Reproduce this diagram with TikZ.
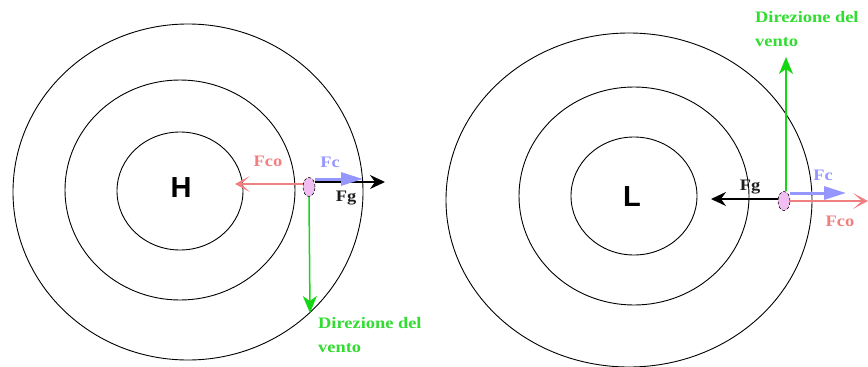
\documentclass[tikz,border=0pt]{standalone}
\usepackage{fontspec}
\setmainfont{Liberation Serif}
\newfontfamily\hlfont{Liberation Sans}
\newfontfamily\labfont[FakeStretch=1.15]{Liberation Serif}
\usetikzlibrary{arrows.meta,shapes.geometric}
\definecolor{fcoc}{RGB}{240,128,128}
\definecolor{fcc}{RGB}{150,150,255}
\definecolor{ventoc}{RGB}{20,215,20}
\definecolor{ventot}{RGB}{50,220,50}
\definecolor{partc}{RGB}{240,190,240}
\definecolor{fgt}{RGB}{30,30,30}
\begin{document}
\begin{tikzpicture}[x=1pt,y=-1pt,
  iso/.style={draw=black,line width=0.9pt},
  particle/.style={ellipse,draw=black,densely dashed,line width=0.6pt,fill=partc,minimum width=12pt,minimum height=19pt,inner sep=0pt},
  centre/.style={font=\hlfont\bfseries\fontsize{29}{29}\selectfont},
  lab/.style={font=\labfont\bfseries\fontsize{16}{16}\selectfont,inner sep=0pt},
  vlab/.style={font=\labfont\bfseries\fontsize{16}{24}\selectfont,text=ventot,align=left,anchor=north west,inner sep=0pt},
  fgarrow/.style={draw=black,line width=1.5pt,-{Stealth[length=15pt,width=14pt,inset=5pt]}},
  fcarrow/.style={draw=fcc,line width=3pt,-{Triangle[length=22pt,width=13pt]}},
  fcoarrow/.style={draw=fcoc,line width=1.3pt,-{Stealth[length=15pt,width=16pt,inset=9pt]}},
  ventoarrow/.style={draw=ventoc,line width=1.5pt,-{Stealth[length=17pt,width=14pt,inset=5pt]}}
]
\useasboundingbox (0,0) rectangle (868,367);
% ---------- left: H ----------
\draw[iso] (188,192) ellipse [x radius=175, y radius=168];
\draw[iso] (180,190) ellipse [x radius=115, y radius=110];
\draw[iso] (180,191) ellipse [x radius=63, y radius=59];
\node[centre] (H) at (181,188) {H};
\node[particle] (pH) at (309,187) {};
\coordinate (fcoH) at (235,184);
\coordinate (fgH) at (385,182);
\coordinate (fcH) at (363,179);
\coordinate (ventoH) at (310,313);
\draw[fcoarrow] (pH.west |- fcoH) -- (fcoH);
\draw[fgarrow] (pH.east |- fgH) -- (fgH);
\draw[fcarrow] (pH.east |- fcH) -- (fcH);
\draw[ventoarrow] (pH.south) -- (ventoH);
\node[lab,text=fcoc] (lfcoH) at (268,161) {Fco};
\node[lab,text=fcc] (lfcH) at (330,162) {Fc};
\node[lab,text=fgt] (lfgH) at (346,198) {Fg};
\node[vlab] (lvH) at (318,317) {Direzione del\\vento};
% ---------- right: L ----------
\draw[iso] (629,200) ellipse [x radius=183, y radius=167];
\draw[iso] (634,196) ellipse [x radius=115, y radius=109];
\draw[iso] (634,196) ellipse [x radius=63, y radius=59];
\node[centre] (L) at (632,197) {L};
\node[particle] (pL) at (784,201) {};
\coordinate (fgL) at (711,199);
\coordinate (fcL) at (846,193);
\coordinate (fcoL) at (868,201);
\coordinate (ventoL) at (786,57);
\draw[fgarrow] (pL.west |- fgL) -- (fgL);
\draw[fcoarrow] (pL.east |- fcoL) -- (fcoL);
\draw[fcarrow] (pL.east |- fcL) -- (fcL);
\draw[ventoarrow] (pL.north -| ventoL) -- (ventoL);
\node[lab,text=fgt] (lfgL) at (750,187) {Fg};
\node[lab,text=fcc] (lfcL) at (823,175) {Fc};
\node[lab,text=fcoc] (lfcoL) at (840,221) {Fco};
\node[vlab] (lvL) at (755,11) {Direzione del\\vento};
\end{tikzpicture}
\end{document}
